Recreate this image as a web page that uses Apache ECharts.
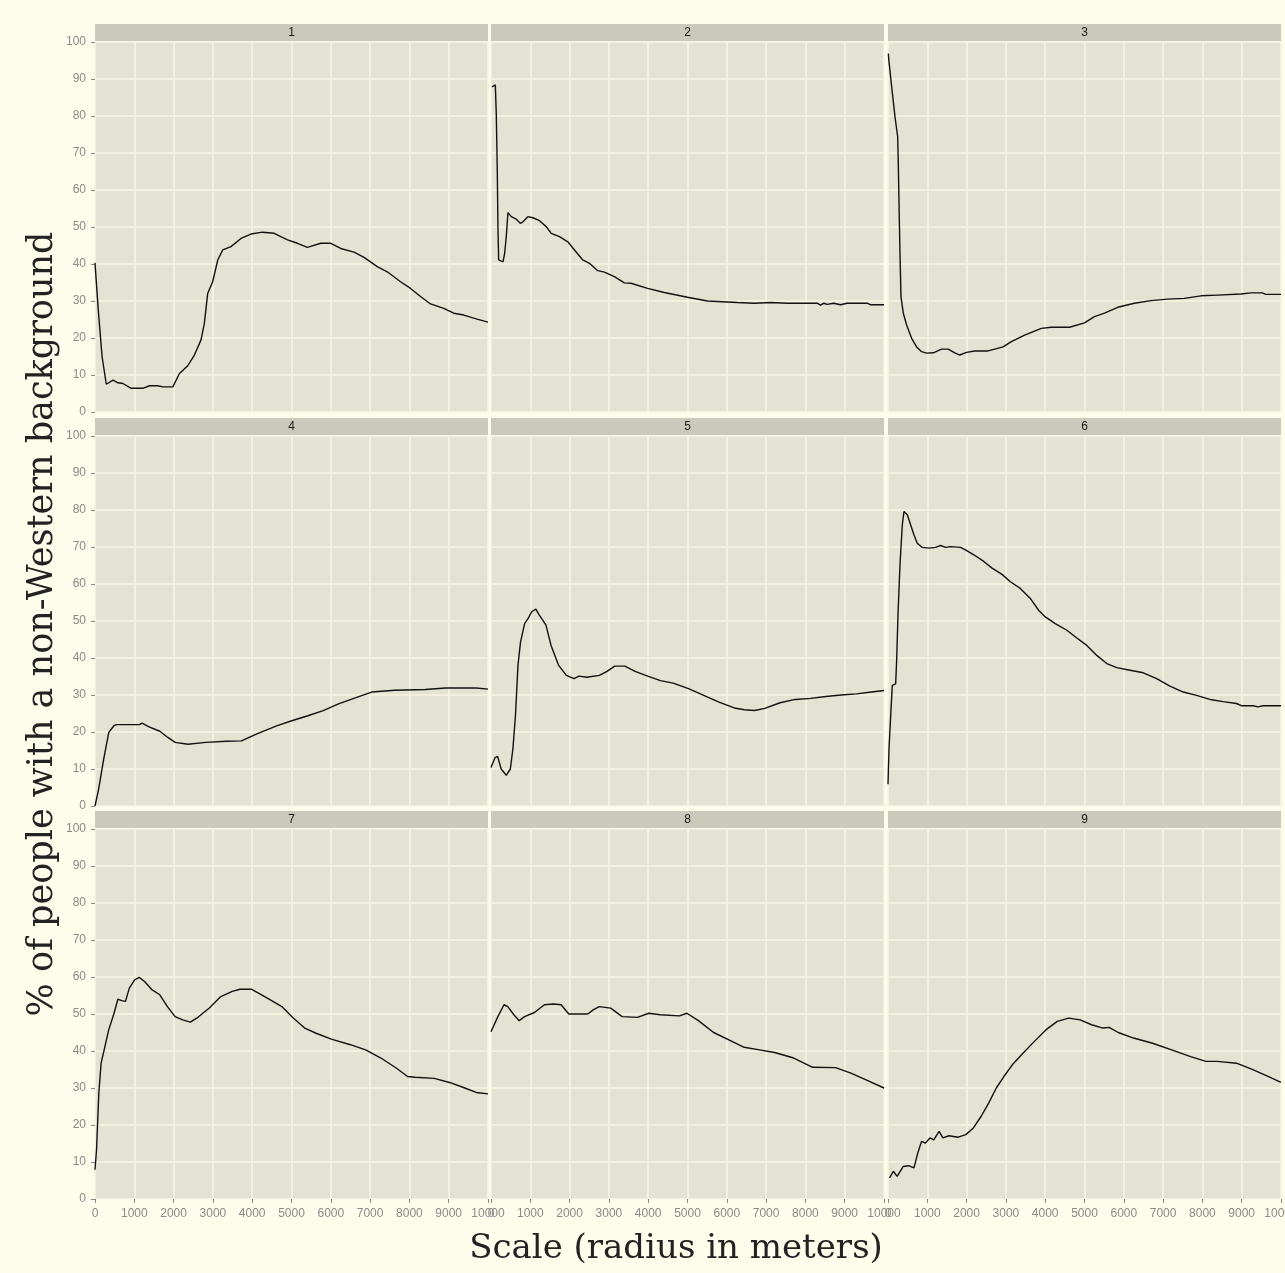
<!DOCTYPE html>
<html>
<head>
<meta charset="utf-8">
<script src="https://cdn.jsdelivr.net/npm/echarts@6/dist/echarts.min.js"></script>
<style>
html,body{margin:0;padding:0;background:#FEFCEB;}
#chart{width:1285px;height:1273px;}
</style>
</head>
<body>
<div id="chart"></div>
<script>
const panelNames = ['1','2','3','4','5','6','7','8','9'];
const xTickValues = [0,1000,2000,3000,4000,5000,6000,7000,8000,9000,10000];
const yTickValues = [0,10,20,30,40,50,60,70,80,90,100];
const xTitle = 'Scale (radius in meters)';
const yTitle = '% of people with a non-Western background';

const p1 = [[0,40.3],[80,28],[180,15],[287,7.5],[457,8.6],[584,7.9],[711,7.7],[922,6.4],[1218,6.4],[1388,7.1],[1599,7.1],[1726,6.8],[1980,6.8],[2149,10.4],[2360,12.5],[2529,15.4],[2698,19.5],[2783,24],[2867,32],[2994,35.2],[3121,41],[3249,43.8],[3460,44.7],[3714,46.9],[3968,48.1],[4264,48.6],[4560,48.3],[4898,46.5],[5152,45.6],[5406,44.5],[5745,45.6],[5999,45.6],[6253,44.2],[6591,43.2],[6845,41.8],[7183,39.3],[7437,37.9],[7775,35.2],[8029,33.4],[8283,31.2],[8537,29.2],[8875,28],[9129,26.7],[9383,26.2],[9721,25.1],[10000,24.3]];
const p2 = [[25,87.9],[110,88.4],[135,80.3],[160,65],[178,49.2],[195,41.1],[305,40.6],[347,42.9],[389,47.4],[431,53.9],[516,52.8],[643,52.1],[745,51],[812,51.4],[939,52.8],[1066,52.5],[1235,51.7],[1404,50.1],[1531,48.3],[1743,47.4],[1954,46],[2124,43.8],[2335,41.1],[2505,40.2],[2716,38.2],[2886,37.8],[3140,36.6],[3393,34.9],[3562,34.8],[3985,33.4],[4409,32.3],[5000,31],[5508,30],[6269,29.6],[6693,29.4],[7115,29.6],[7538,29.4],[8300,29.4],[8384,28.9],[8470,29.4],[8553,29.1],[8722,29.4],[8892,29],[9061,29.4],[9569,29.4],[9653,29],[10000,29]];
const p3 = [[8,96.9],[25,94.7],[93,87.9],[178,79.8],[246,74.4],[262,67.2],[288,51.9],[305,42.9],[330,31.2],[389,26.7],[474,23.5],[601,19.9],[728,17.6],[855,16.3],[982,15.9],[1151,16],[1362,17],[1531,17],[1700,16],[1827,15.4],[1997,16.1],[2208,16.5],[2546,16.5],[2716,17],[2927,17.6],[3139,19],[3477,20.8],[3901,22.6],[4155,22.9],[4619,22.9],[5000,24.1],[5254,25.8],[5508,26.7],[5846,28.3],[6269,29.4],[6692,30.1],[7115,30.5],[7538,30.7],[7962,31.4],[8384,31.6],[8977,31.9],[9231,32.2],[9526,32.2],[9611,31.8],[10000,31.8]];
const p4 = [[0,0],[91,4.5],[221,12.7],[351,19.9],[481,21.7],[546,22],[1130,22],[1195,22.4],[1390,21.3],[1650,20.2],[1845,18.6],[2039,17.2],[2364,16.7],[2819,17.2],[3339,17.5],[3728,17.6],[4118,19.5],[4638,21.7],[5027,23.1],[5417,24.4],[5807,25.8],[6196,27.6],[6586,29.1],[7041,30.8],[7625,31.3],[8405,31.5],[8925,31.9],[9704,31.9],[10000,31.6]];
const p5 = [[0,10.4],[104,13.1],[168,13.4],[259,10],[388,8.3],[492,10],[557,15.4],[622,24.4],[686,38],[751,44.3],[855,49.3],[945,50.7],[1036,52.5],[1140,53.2],[1230,51.6],[1399,48.9],[1528,43.4],[1722,38],[1917,35.3],[2111,34.4],[2240,35.1],[2435,34.8],[2758,35.3],[2953,36.4],[3147,37.8],[3406,37.8],[3665,36.4],[3989,35.1],[4312,33.9],[4636,33.2],[5025,31.7],[5413,29.9],[5802,28.1],[6190,26.5],[6449,26],[6708,25.8],[6967,26.4],[7356,27.9],[7744,28.8],[8133,29.1],[8521,29.6],[8910,30],[9298,30.3],[9687,30.8],[10000,31.2]];
const p6 = [[0,5.9],[25,15.4],[68,24.4],[110,32.6],[195,33],[220,39.4],[254,51.6],[305,65.2],[364,76],[406,79.6],[491,78.7],[575,76],[660,73.3],[744,71],[871,69.9],[1041,69.7],[1210,69.9],[1337,70.4],[1464,69.9],[1591,70.1],[1844,69.9],[1971,69.2],[2183,67.9],[2437,66.1],[2648,64.3],[2902,62.6],[3113,60.6],[3367,58.8],[3621,56.1],[3832,52.9],[4002,51.1],[4255,49.3],[4552,47.5],[4805,45.4],[5059,43.4],[5313,40.7],[5567,38.5],[5820,37.4],[6159,36.7],[6497,36],[6836,34.4],[7174,32.4],[7513,30.8],[7851,29.9],[8232,28.7],[8528,28.2],[8866,27.7],[8993,27.1],[9289,27.1],[9416,26.8],[9543,27.1],[10000,27.1]];
const p7 = [[0,7.9],[39,13.3],[97,28.6],[155,36.7],[233,40.3],[349,45.7],[485,50.2],[582,54],[679,53.6],[776,53.4],[873,57],[1009,59.2],[1125,59.9],[1261,58.8],[1455,56.5],[1649,55.2],[1843,52],[2037,49.3],[2231,48.4],[2425,47.8],[2619,49.1],[2910,51.6],[3201,54.7],[3492,56.1],[3686,56.7],[3977,56.7],[4171,55.6],[4462,53.8],[4753,52],[5044,48.9],[5335,46.2],[5626,44.8],[6014,43.2],[6499,41.7],[6887,40.3],[7275,38.1],[7663,35.4],[7954,33.1],[8148,32.9],[8633,32.6],[9021,31.5],[9409,30],[9700,28.8],[10000,28.4]];
const p8 = [[0,45.2],[175,49.3],[330,52.5],[427,52],[582,49.8],[718,48.2],[854,49.3],[1106,50.4],[1358,52.5],[1591,52.7],[1785,52.5],[1979,50],[2464,50],[2600,51.1],[2755,52],[3046,51.6],[3337,49.3],[3725,49.1],[4016,50.2],[4307,49.8],[4792,49.5],[4986,50.2],[5277,48.2],[5665,45],[6053,43],[6441,41],[6829,40.3],[7217,39.6],[7702,38.1],[8187,35.6],[8769,35.5],[9157,34],[9545,32.2],[10000,30]];
const p9 = [[39,5.7],[136,7.5],[233,6.1],[388,8.8],[524,9],[660,8.4],[757,12.4],[854,15.6],[951,15.1],[1067,16.5],[1164,16],[1300,18.3],[1397,16.5],[1552,17.1],[1785,16.7],[1979,17.4],[2173,19.2],[2367,22.3],[2561,25.9],[2755,30],[2949,33.1],[3181,36.5],[3434,39.4],[3725,42.6],[4016,45.7],[4307,48],[4598,48.9],[4889,48.4],[5180,47.1],[5471,46.2],[5626,46.4],[5859,45],[6247,43.5],[6732,42.1],[7217,40.3],[7702,38.5],[8090,37.2],[8381,37.2],[8866,36.7],[9254,35.1],[9642,33.3],[10000,31.5]];

const panelData = [p1,p2,p3,p4,p5,p6,p7,p8,p9];

const colLeft = [95, 491, 888];
const rowTop = [42, 436, 829];
const PW = 393, PH = 370;
const stripH = 17;

const grids = [], xAxes = [], yAxes = [], series = [], graphics = [];
const tickColor = '#8a8a8a';
const gridColor = '#F8F5E5';
for (let i = 0; i < 9; i++) {
  const r = Math.floor(i / 3), c = i % 3;
  grids.push({left: colLeft[c], top: rowTop[r], width: PW, height: PH,
    show: true, backgroundColor: '#E4E2D2', borderWidth: 0, containLabel: false,
    outerBoundsMode: 'none'});
  xAxes.push({type: 'value', gridIndex: i, min: 0, max: 10000, interval: 1000,
    axisLine: {show: false},
    axisTick: {show: r === 2, length: 4, lineStyle: {color: tickColor}},
    axisLabel: {show: r === 2, color: tickColor, fontSize: 12, fontFamily: 'Liberation Sans, Arial', margin: 9,
      showMaxLabel: true, showMinLabel: true, hideOverlap: false, formatter: v => String(v)},
    splitLine: {show: true, lineStyle: {color: gridColor, width: 1.5}}});
  yAxes.push({type: 'value', gridIndex: i, min: 0, max: 100, interval: 10,
    axisLine: {show: false},
    axisTick: {show: c === 0, length: 4, lineStyle: {color: tickColor}},
    axisLabel: {show: c === 0, color: tickColor, fontSize: 12, fontFamily: 'Liberation Sans, Arial', margin: 9,
      formatter: v => String(v)},
    splitLine: {show: true, lineStyle: {color: gridColor, width: 1.5}}});
  series.push({type: 'line', xAxisIndex: i, yAxisIndex: i, data: panelData[i],
    showSymbol: false, symbol: 'none', lineStyle: {color: '#111', width: 1.4}, silent: true, animation: false});
  graphics.push({type: 'rect', shape: {x: colLeft[c], y: rowTop[r] - stripH - 1, width: PW, height: stripH},
    style: {fill: '#CBC9B9'}});
  graphics.push({type: 'text', x: colLeft[c] + PW / 2, y: rowTop[r] - stripH / 2 - 1,
    style: {text: panelNames[i], fill: '#1a1a1a', font: '12px Liberation Sans, Arial', textAlign: 'center', textVerticalAlign: 'middle'}});
}
graphics.push({type: 'text', x: 676, y: 1249,
  style: {text: xTitle, fill: '#222', font: '34px DejaVu Serif, serif', textAlign: 'center', textVerticalAlign: 'middle'}});
graphics.push({type: 'text', x: 43, y: 624, rotation: Math.PI / 2,
  style: {text: yTitle, fill: '#222', font: '35px DejaVu Serif, serif', textAlign: 'center', textVerticalAlign: 'middle'}});

const chart = echarts.init(document.getElementById('chart'), null, {renderer: 'canvas'});
chart.setOption({
  backgroundColor: '#FEFCEB',
  animation: false,
  grid: grids, xAxis: xAxes, yAxis: yAxes, series: series, graphic: graphics
});
</script>
</body>
</html>
